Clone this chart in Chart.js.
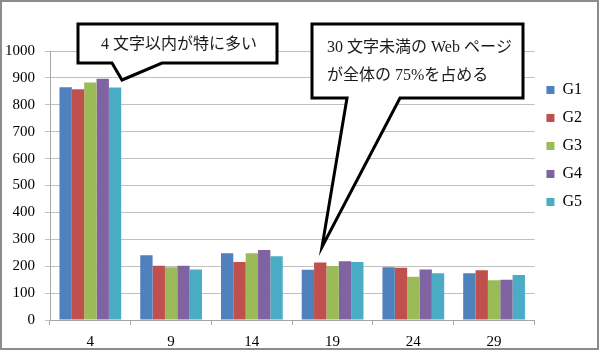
<!DOCTYPE html>
<html>
<head>
<meta charset="utf-8">
<script src="https://cdn.jsdelivr.net/npm/chart.js@4/dist/chart.umd.min.js"></script>
<style>
    html, body { margin: 0; padding: 0; background: #fff; }
    #wadah { width: 600px; height: 351px; position: relative; }
</style>
</head>
<body>
<div id="wadah"><canvas id="grafik"></canvas></div>
<script>
// data
var kategori = ['4', '9', '14', '19', '24', '29'];
var nama_seri = ['G1', 'G2', 'G3', 'G4', 'G5'];
var nilai_g1 = [865, 241, 248, 187, 196, 174];
var nilai_g2 = [858, 202, 216, 214, 194, 185];
var nilai_g3 = [883, 196, 248, 201, 161, 148];
var nilai_g4 = [897, 202, 260, 218, 188, 150];
var nilai_g5 = [864, 188, 237, 216, 174, 167];
var warna = ['#4F81BD', '#C0504D', '#9BBB59', '#8064A2', '#4BACC6'];
var tick_y = [0, 100, 200, 300, 400, 500, 600, 700, 800, 900, 1000];

var teks_balon1 = ['4 文字以内が特に多い'];
var teks_balon2 = ['30 文字未満の Web ページ', 'が全体の 75%を占める'];

var font_angka = "'Liberation Serif', 'DejaVu Serif', serif";
var font_jp = "'Liberation Serif', 'Noto Sans CJK JP', serif";

function gambarBalon(ctx, titik, teks, tx, ty, rata) {
    ctx.save();
    ctx.beginPath();
    ctx.moveTo(titik[0][0], titik[0][1]);
    for (var i = 1; i < titik.length; i++) {
        ctx.lineTo(titik[i][0], titik[i][1]);
    }
    ctx.closePath();
    ctx.fillStyle = '#fff';
    ctx.fill();
    ctx.lineWidth = 3;
    ctx.lineJoin = 'miter';
    ctx.strokeStyle = '#000';
    ctx.stroke();
    ctx.fillStyle = '#1a1a1a';
    ctx.font = '16px ' + font_jp;
    ctx.textBaseline = 'middle';
    ctx.textAlign = rata;
    teks.map(function(t, i){
        ctx.fillText(t, tx, ty + i * 28);
    });
    ctx.restore();
}

var pluginBalon = {
    id: 'balon',
    beforeDraw: function(chart) {
        // geser legend ke posisi seperti gambar
        var lg = chart.legend;
        if (lg) {
            var h = lg.bottom - lg.top;
            lg.top = 70;
            lg.bottom = 70 + h;
        }
    },
    afterDraw: function(chart) {
        var ctx = chart.ctx;
        // bingkai luar
        ctx.save();
        ctx.strokeStyle = '#8c8c8c';
        ctx.lineWidth = 2;
        ctx.strokeRect(1, 1, 597, 348);
        ctx.restore();

        gambarBalon(ctx, [[78, 24], [277, 24], [277, 63], [162, 63], [122, 80], [112, 63], [78, 63]],
            teks_balon1, 179, 45, 'center');
        gambarBalon(ctx, [[312, 24], [523, 24], [523, 98], [400, 98], [322, 247], [347, 98], [312, 98]],
            teks_balon2, 327, 48, 'left');
    }
};

var semua_nilai = [nilai_g1, nilai_g2, nilai_g3, nilai_g4, nilai_g5];
var datasets = nama_seri.map(function(nama, i){
    return {
        label: nama,
        data: semua_nilai[i],
        backgroundColor: warna[i],
        borderWidth: 0,
        categoryPercentage: 0.765,
        barPercentage: 1
    };
});

new Chart(document.getElementById('grafik').getContext('2d'), {
    type: 'bar',
    data: {
        labels: kategori,
        datasets: datasets
    },
    options: {
        responsive: true,
        maintainAspectRatio: false,
        animation: false,
        layout: {
            padding: { left: 0, top: 51, right: 8, bottom: 2 }
        },
        plugins: {
            legend: {
                position: 'right',
                align: 'start',
                labels: {
                    boxWidth: 8,
                    boxHeight: 8,
                    padding: 12,
                    color: '#000',
                    font: { family: font_angka, size: 16 }
                }
            },
            tooltip: { enabled: false }
        },
        scales: {
            x: {
                afterFit: function(scale) { scale.height = 29; },
                grid: {
                    offset: true,
                    drawOnChartArea: false,
                    drawTicks: true,
                    tickLength: 5,
                    color: '#a6a6a6'
                },
                border: { color: '#a6a6a6' },
                ticks: {
                    color: '#000',
                    padding: 8,
                    font: { family: font_angka, size: 15 }
                }
            },
            y: {
                min: 0,
                max: 1000,
                afterFit: function(scale) { scale.width = 50; },
                afterBuildTicks: function(scale) {
                    scale.ticks = tick_y.map(function(v){ return { value: v }; });
                },
                grid: {
                    color: '#c0c0c0',
                    tickLength: 5
                },
                border: { color: '#a6a6a6' },
                ticks: {
                    color: '#000',
                    padding: 10,
                    font: { family: font_angka, size: 15 },
                    callback: function(v) { return String(v); }
                }
            }
        }
    },
    plugins: [pluginBalon]
});
</script>
</body>
</html>
